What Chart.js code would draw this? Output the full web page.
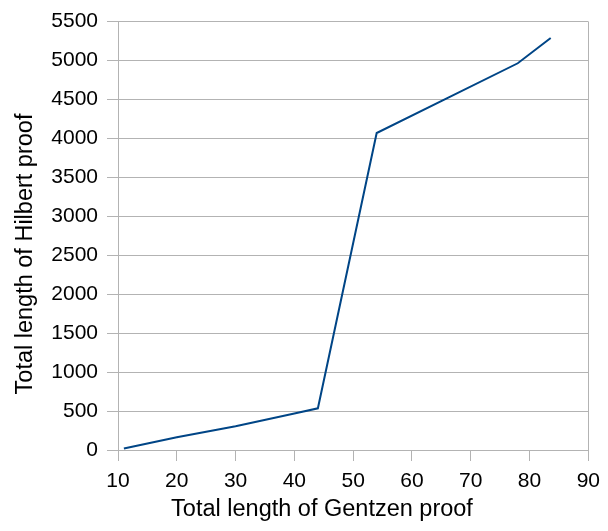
<!DOCTYPE html>
<html>
<head>
<meta charset="utf-8">
<script src="https://cdn.jsdelivr.net/npm/chart.js@4"></script>
<style>
  html, body { margin: 0; padding: 0; background: #fff; }
  #wrap { width: 608px; height: 531px; }
</style>
</head>
<body>
<div id="wrap"><canvas id="proofChart" width="608" height="531"></canvas></div>
<script>
// Data
const gentzenLengths = [11, 20, 30, 40, 44, 54, 78, 83.6];
const hilbertLengths = [20, 163, 305, 468, 535, 4070, 4965, 5290];

const xTitle = 'Total length of Gentzen proof';
const yTitle = 'Total length of Hilbert proof';

const gridGrey = '#b3b3b3';
const fontFamily = '"Liberation Sans", Arial, sans-serif';

// axis titles drawn by hand so they sit where the original has them
const axisTitles = {
  id: 'axisTitles',
  afterDraw(chart) {
    const ctx = chart.ctx;
    ctx.save();
    ctx.fillStyle = '#000';
    ctx.font = '23.5px ' + fontFamily;
    ctx.textAlign = 'center';
    ctx.textBaseline = 'alphabetic';
    ctx.fillText(xTitle, 322, 516);
    ctx.translate(31.5, 254);
    ctx.rotate(-Math.PI / 2);
    ctx.fillText(yTitle, 0, 0);
    ctx.restore();
  }
};

const points = gentzenLengths.map((x, i) => ({ x: x, y: hilbertLengths[i] }));

const ctx = document.getElementById('proofChart').getContext('2d');
const proofChart = new Chart(ctx, {
  type: 'line',
  data: {
    datasets: [{
      data: points,
      borderColor: '#004586',
      borderWidth: 2,
      pointRadius: 0,
      tension: 0,
      fill: false
    }]
  },
  options: {
    responsive: false,
    animation: false,
    layout: { padding: { top: 20, right: 15, left: 0, bottom: 0 } },
    plugins: {
      legend: { display: false },
      tooltip: { enabled: false }
    },
    scales: {
      x: {
        type: 'linear',
        min: 10,
        max: 90,
        afterFit: scale => { scale.height = 81; },
        ticks: {
          stepSize: 10,
          color: '#000',
          padding: 8,
          font: { family: fontFamily, size: 21 },
          callback: v => String(v)
        },
        grid: {
          color: c => (c.tick && c.tick.value === 90) ? gridGrey : 'rgba(0,0,0,0)',
          tickColor: gridGrey,
          tickLength: 11,
          lineWidth: 1
        },
        border: { display: true, color: gridGrey }
      },
      y: {
        min: 0,
        max: 5500,
        afterFit: scale => { scale.width = 118; },
        ticks: {
          stepSize: 500,
          color: '#000',
          padding: 9,
          font: { family: fontFamily, size: 21 },
          callback: v => String(v)
        },
        grid: {
          color: gridGrey,
          tickColor: gridGrey,
          tickLength: 11,
          lineWidth: 1
        },
        border: { display: true, color: gridGrey }
      }
    }
  },
  plugins: [axisTitles]
});
</script>
</body>
</html>
